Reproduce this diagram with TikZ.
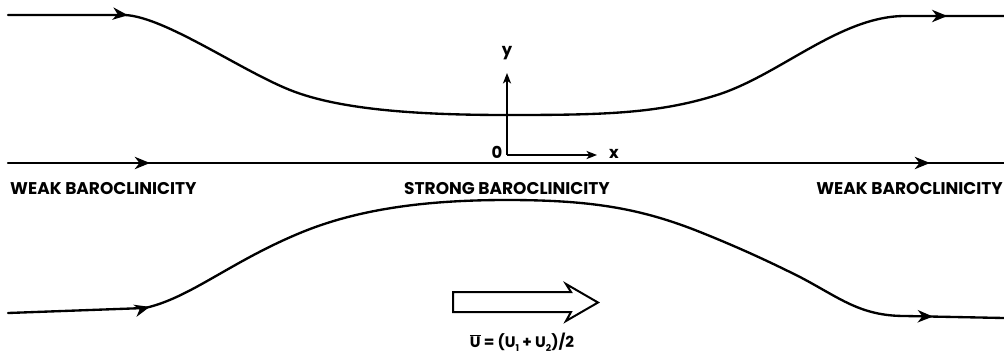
\documentclass[tikz,border=0pt]{standalone}
\usepackage{fontspec}
\setmainfont{Poppins}
\usetikzlibrary{arrows.meta,decorations.markings}

\begin{document}
\begin{tikzpicture}[
  x=0.03cm,y=-0.03cm,
  flow/.tip={Stealth[length=13pt,width=10.5pt,inset=4pt]},
  stream/.style={line width=2pt,line cap=round,postaction={decorate}},
  arrowsat/.style 2 args={decoration={markings,
      mark=at position #1 with {\arrow{flow}},
      mark=at position #2 with {\arrow{flow}}}},
  axis/.style={line width=1.1pt,-{Stealth[length=9pt,width=7pt,inset=2.5pt]}},
  lbl/.style={font=\bfseries\fontsize{14.5}{16}\selectfont,inner sep=0pt},
  axlbl/.style={font=\bfseries\fontsize{14}{15}\selectfont,inner sep=0pt},
  hollow/.style={line width=1.7pt,fill=white}
]
  \useasboundingbox (0,0) rectangle (1004,356);

  % streamlines
  \draw[stream,arrowsat={3.6cm}{-1.7cm}] (8,15) -- (125,15)
    .. controls (165,17) and (240,70) .. (290,90)
    .. controls (340,110) and (420,115) .. (507,115)
    .. controls (600,115) and (657,114) .. (717,95)
    .. controls (780,75) and (840,16) .. (905,16) -- (1004,16);
  \draw[stream,arrowsat={4.26cm}{-2.22cm}] (8,163) -- (1004,163);
  \draw[stream,arrowsat={4.26cm}{-2.13cm}] (8,313) -- (145,308)
    .. controls (190,298) and (230,262) .. (300,233)
    .. controls (360,208) and (430,200) .. (507,200)
    .. controls (590,200) and (640,208) .. (700,232)
    .. controls (740,248) and (770,262) .. (800,277)
    .. controls (840,298) and (860,316) .. (905,316) -- (1004,318);

  % axes
  \coordinate (o) at (507,155);
  \coordinate (ytip) at (507,73);
  \coordinate (xtip) at (597,155);
  \draw[axis] (o) -- (ytip);
  \draw[axis] (o) -- (xtip);
  \node[axlbl] (ylab) at (507,53) {y};
  \node[axlbl] (olab) at (497,152) {0};
  \node[axlbl] (xlab) at (614,154) {x};

  % regions
  \node[lbl,anchor=west] (weakl) at (10,189) {WEAK BAROCLINICITY};
  \node[lbl] (strong) at (507,189) {STRONG BAROCLINICITY};
  \node[lbl,anchor=east] (weakr) at (1003,189) {WEAK BAROCLINICITY};

  % mean flow
  \draw[hollow] (453,292) -- (571,292) -- (566,284) -- (598,302.5)
    -- (566,321) -- (571,312) -- (453,312) -- cycle;
  \node[lbl,font=\bfseries\fontsize{13}{15}\selectfont] (ubar) at (522,342) {$\overline{\mbox{U}}$ = (U\raisebox{-0.45ex}{\footnotesize 1} + U\raisebox{-0.45ex}{\footnotesize 2})/2};
\end{tikzpicture}
\end{document}
